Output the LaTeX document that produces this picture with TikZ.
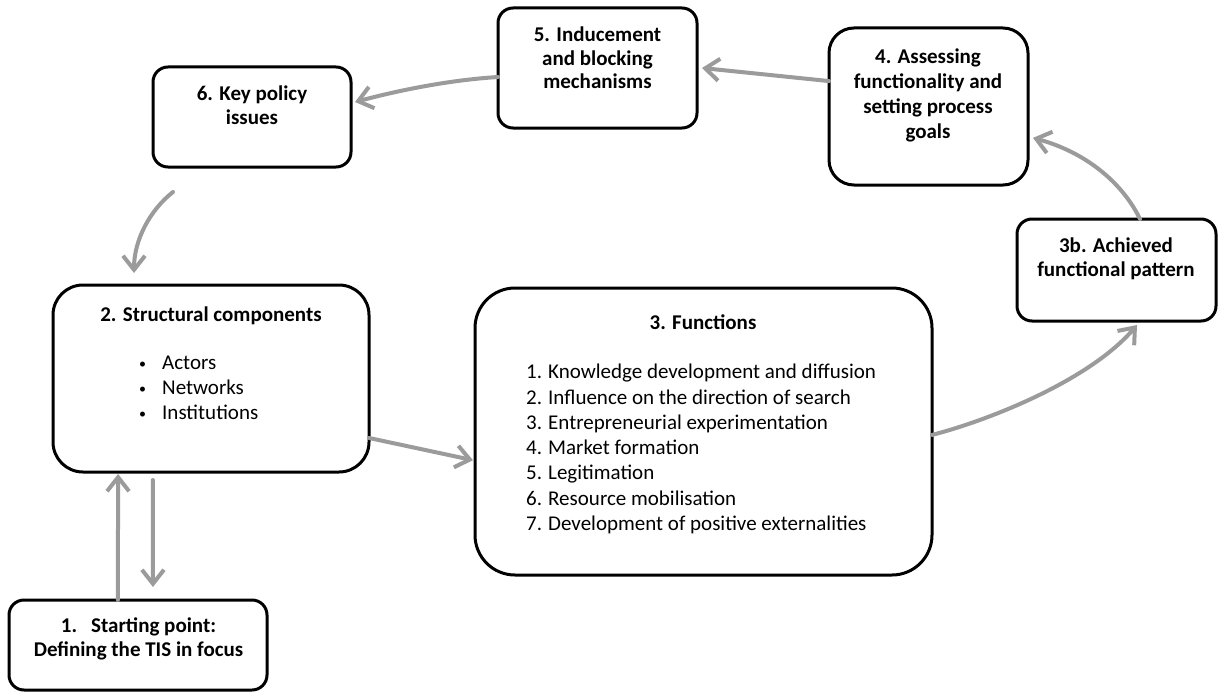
\documentclass[tikz,border=0pt]{standalone}
\usepackage{fontspec}
\setmainfont{Carlito}
\usetikzlibrary{arrows.meta,calc}
\definecolor{arrgray}{RGB}{155,155,155}
\newcommand{\smbul}{\makebox[23pt][l]{\raisebox{1.5pt}{\fontsize{14}{14}\selectfont•}}}
\begin{document}
\begin{tikzpicture}[x=1pt,y=-1pt,
  box/.style={draw=black,line width=3pt,fill=white,inner sep=0pt,outer sep=0pt,rounded corners=#1},
  box/.default=15pt,
  ttl/.style={font=\fontsize{21}{23.5}\selectfont\bfseries,align=center,inner sep=0pt,anchor=north},
  lst/.style={font=\fontsize{21}{25.3}\selectfont,align=left,inner sep=0pt,anchor=north west},
  arr/.style={draw=arrgray,line width=4pt,line cap=round,-{Straight Barb[length=14pt,width=22pt]}}]
\fill[white] (0,0) rectangle (1218,693);
\useasboundingbox (0,0) rectangle (1218,693);

% boxes
\node[box,minimum width=198pt,minimum height=100pt] (n6) at (252,117) {};
\node[box,minimum width=199pt,minimum height=120pt] (n5) at (597.5,68) {};
\node[box=25pt,minimum width=199pt,minimum height=157pt] (n4) at (928.5,106.5) {};
\node[box,minimum width=199pt,minimum height=102pt] (n3b) at (1116.5,270) {};
\node[box=30pt,minimum width=316pt,minimum height=187pt] (n2) at (211,378.5) {};
\node[box,minimum width=258pt,minimum height=90pt] (n1) at (138,645) {};
\node[box=40pt,minimum width=457pt,minimum height=287pt] (n3) at (703.5,431.5) {};

% texts
\node[ttl] (t6) at (252,86) {6. Key policy\\issues};
\node[ttl] (t5) at (597.5,27) {5. Inducement\\and blocking\\mechanisms};
\node[ttl,font=\fontsize{21}{25}\selectfont\bfseries] (t4) at (928,49) {4. Assessing\\functionality and\\setting process\\goals};
\node[ttl] (t3b) at (1116,238) {3b. Achieved\\functional pattern};
\node[ttl] (t1) at (138.5,618) {1.\hspace{14pt}Starting point:\\Defining the TIS in focus};
\node[ttl] (t2) at (211,307) {2. Structural components};
\node[lst,font=\fontsize{21}{25}\selectfont] (l2) at (139,356) {\smbul Actors\\\smbul Networks\\\smbul Institutions};
\node[ttl] (t3) at (703,315) {3. Functions};
\node[lst] (l3) at (526,364) {\makebox[22pt][l]{1.}Knowledge development and diffusion\\
\makebox[22pt][l]{2.}Influence on the direction of search\\
\makebox[22pt][l]{3.}Entrepreneurial experimentation\\
\makebox[22pt][l]{4.}Market formation\\
\makebox[22pt][l]{5.}Legitimation\\
\makebox[22pt][l]{6.}Resource mobilisation\\
\makebox[22pt][l]{7.}Development of positive externalities};

% arrows
\draw[arr] ($(n5.north west)!0.575!(n5.south west)$) .. controls (450,80) and (400,90) .. ($(n6.north east)!0.35!(n6.south east)+(4,0)$);
\draw[arr] ($(n4.north west)!0.338!(n4.south west)$) -- ($(n5.north east)!0.5!(n5.south east)+(5,0)$);
\draw[arr] ($(n3b.north west)!0.618!(n3b.north east)$) .. controls (1122,182) and (1085,152) .. ($(n4.north east)!0.70!(n4.south east)+(5,0)$);
\draw[arr] ($(n3.north east)!0.512!(n3.south east)$) .. controls (990,420) and (1090,380) .. ($(n3b.south west)!0.603!(n3b.south east)+(0,4)$);
\draw[arr] ($(n6.south west)+(20,25)$) .. controls (150,210) and (134,240) .. ($(n2.north west)+(81,-12)$);
\draw[arr] ($(n2.north east)!0.818!(n2.south east)$) -- ($(n3.north west)!0.6!(n3.south west)+(-2,0)$);
\draw[arr] ($(n1.north west)!0.422!(n1.north east)$) -- ($(n2.south west)!0.206!(n2.south east)+(0,2)$);
\draw[arr] ($(n2.south west)!0.316!(n2.south east)+(0,8)$) -- ($(n1.north west)!0.558!(n1.north east)+(0,-13)$);
\end{tikzpicture}
\end{document}
